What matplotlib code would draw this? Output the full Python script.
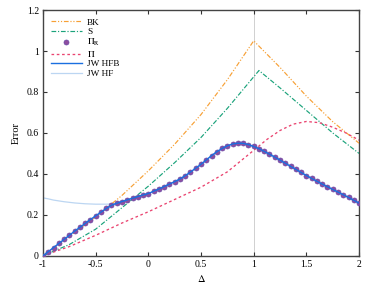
import numpy as np
import matplotlib.pyplot as plt
from matplotlib.ticker import FuncFormatter

plt.rcParams['font.family'] = 'Liberation Serif'
plt.rcParams['mathtext.fontset'] = 'stix'
plt.rcParams['font.size'] = 7

# BK and S curves
x_bk = [-1, -0.75, -0.5, -0.25, 0, 0.25, 0.5, 0.75, 1.0, 1.25, 1.5, 1.75, 2.0]
bk = [0, 0.095, 0.19, 0.295, 0.415, 0.545, 0.69, 0.86, 1.05, 0.92, 0.78, 0.655, 0.55]

x_s = [-1, -0.75, -0.5, -0.25, 0, 0.25, 0.5, 0.75, 1.05, 1.25, 1.5, 1.75, 2.0]
s = [0, 0.055, 0.13, 0.235, 0.34, 0.455, 0.578, 0.72, 0.905, 0.82, 0.71, 0.60, 0.50]

# Pi curve
x_pi = [-1, -0.75, -0.5, -0.25, 0, 0.25, 0.5, 0.75, 1.0, 1.125, 1.25, 1.375, 1.5,
        1.625, 1.75, 1.875, 2.0]
pi = [0, 0.045, 0.10, 0.16, 0.215, 0.275, 0.335, 0.41, 0.515, 0.568, 0.612, 0.643, 0.656,
      0.650, 0.628, 0.600, 0.565]

# JW HFB / Pi_R (same values), step 0.05
x_jw = [round(-1 + 0.05 * i, 2) for i in range(61)]
jw_hfb = [0.000, 0.020, 0.040, 0.060, 0.080, 0.100, 0.120, 0.139, 0.158, 0.177,
          0.195, 0.213, 0.231, 0.247, 0.256, 0.265, 0.273, 0.281, 0.289, 0.297,
          0.304, 0.315, 0.326, 0.338, 0.350, 0.362, 0.375, 0.391, 0.409, 0.428,
          0.447, 0.468, 0.489, 0.508, 0.524, 0.537, 0.546, 0.550, 0.549, 0.543,
          0.534, 0.523, 0.510, 0.496, 0.482, 0.467, 0.452, 0.437, 0.422, 0.407,
          0.392, 0.378, 0.364, 0.350, 0.337, 0.324, 0.311, 0.298, 0.285, 0.271,
          0.257]
jw_hf = [0.283, 0.278, 0.272, 0.268, 0.264, 0.261, 0.258, 0.256, 0.254, 0.253,
         0.252, 0.252, 0.252, 0.253, 0.256] + jw_hfb[15:]

fig = plt.figure(figsize=(3.74, 2.89), dpi=100)
ax = fig.add_axes([0.115, 0.115, 0.845, 0.85])

ax.axvline(1.0, color='#d0d0d0', lw=0.7, zorder=1)

ax.plot(x_bk, bk, color='#f7a035', lw=0.85, dashes=(4, 1.5, 1, 1.5, 1, 1.5), label='BK', zorder=3)
ax.plot(x_s, s, color='#1ba37b', lw=0.85, dashes=(4, 1.5, 1, 1.5), label='S', zorder=3)
ax.plot(x_jw, jw_hfb, 'o', color='#8e4d9e', ms=3.6, mec='#6a4aa8', mew=0.5,
        label=r'$\Pi_\mathrm{R}$', zorder=4)
ax.plot(x_pi, pi, color='#ea4470', lw=0.95, dashes=(2, 2), label=r'$\Pi$', zorder=3)
ax.plot(x_jw, jw_hfb, color='#1a6fe0', lw=1.0, label='JW HFB', zorder=5)
ax.plot(x_jw, jw_hf, color='#bcd6f2', lw=0.9, label='JW HF', zorder=2)

ax.set_xlim(-1, 2)
ax.set_ylim(0, 1.2)
ax.set_xticks([-1, -0.5, 0, 0.5, 1, 1.5, 2])
ax.set_yticks([0, 0.2, 0.4, 0.6, 0.8, 1.0, 1.2])
fmt = FuncFormatter(lambda v, p: ('%g' % round(v, 2)))
ax.xaxis.set_major_formatter(fmt)
ax.yaxis.set_major_formatter(fmt)
ax.tick_params(direction='in', top=True, right=True, length=3, width=0.8, colors='#333333',
               labelcolor='black', pad=3)
for sp in ax.spines.values():
    sp.set_color('#444444')
    sp.set_linewidth(1.0)

ax.set_xlabel(r'$\Delta$', labelpad=3, fontsize=7.5)
ax.set_ylabel('Error', labelpad=4, fontsize=7.5)

ax.legend(loc='upper left', frameon=False, handlelength=3.3, handletextpad=0.6,
          labelspacing=0.1, borderaxespad=0.45, fontsize=6.7)

fig.savefig('out.png', dpi=100)
